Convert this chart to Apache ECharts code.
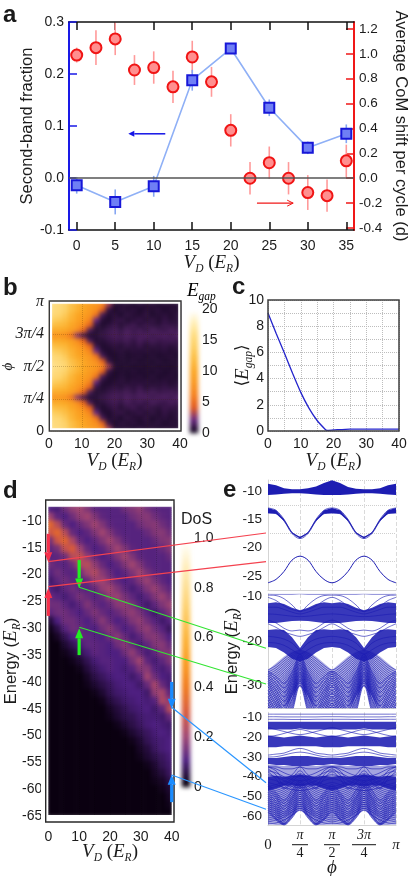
<!DOCTYPE html>
<html><head><meta charset="utf-8">
<script src="https://cdn.jsdelivr.net/npm/echarts@6/dist/echarts.min.js"></script>
<style>
html,body{margin:0;padding:0;background:#fff;width:409px;height:876px;overflow:hidden}
#bg,#fg{position:absolute;left:0;top:0;width:409px;height:876px}
#bg{filter:blur(2px)}
</style></head><body>
<div id="bg"></div><div id="fg"></div>
<script>
// ---------- panel a
const aBlueV=[0,5,10,15,20,25,30,35];
const aBlue=[-0.014,-0.046,-0.016,0.188,0.249,0.135,0.058,0.085];
const aBlueErr=[0.016,0.024,0.02,0.02,0.006,0.016,0.012,0.018];
const aRedV=[0,2.5,5,7.5,10,12.5,15,17.5,20,22.5,25,27.5,30,32.5,35];
const aRed=[0.99,1.05,1.12,0.87,0.89,0.735,0.975,0.775,0.385,0,0.125,0,-0.115,-0.14,0.14];
const aRedErr=[0.06,0.14,0.13,0.12,0.13,0.13,0.13,0.12,0.13,0.13,0.13,0.13,0.14,0.13,0.13];
// ---------- panel b: gap vs V_D (columns 0..40 step 2), rows phi = 0..pi/2 step pi/24, mirrored about pi/2
const gapRows=[
[16,15.5,14.5,12.5,11,10,9,8,6.5,3,.5,.4,.5,.3,.6,.4,.5,.3,.5,.4,.5],
[16,15.5,14.5,12.5,11,10,8.5,7.5,4.5,.8,.3,.6,.4,.6,.3,.5,.4,.6,.3,.5,.4],
[15.5,15,13.5,11.5,10,9,8,5.5,1.2,.4,.6,.3,.7,.5,.4,.7,.3,.5,.6,.4,.6],
[14,13.5,12.5,11,9.5,8.5,6.5,2,.5,.3,.7,.8,.4,.6,.8,.5,.7,.4,.8,.5,.6],
[12.5,12,11.5,10,8.5,7,4.5,.8,.3,.6,.9,.5,.8,1,.6,.9,.7,.6,.9,.8,.7],
[10.5,10.5,10,9,7,4.5,1.2,.4,.6,.9,1.1,.8,1.2,.9,1.1,.8,1.2,1,.9,1.2,1],
[8,8,7.5,5.5,2.5,1,.4,.5,.8,1,1.2,1,1.3,1.1,1.2,1.3,1,1.2,1.3,1.1,1.3],
[10.5,10.5,10,9,7,4.5,1.2,.4,.5,.8,1,.9,1.1,.8,1.2,.9,1.1,.9,1,1.1,.9],
[12.5,12,11.5,10,8.5,7,4.5,.8,.3,.5,.7,.5,.8,.6,.9,.5,.7,.6,.8,.6,.7],
[14,13.5,12.5,11,9.5,8.5,6.5,2,.5,.3,.5,.6,.4,.6,.5,.6,.4,.5,.6,.4,.5],
[15.5,15,13.5,11.5,10,9,8,5.5,1.2,.4,.3,.5,.3,.4,.5,.3,.5,.3,.4,.5,.3],
[16,15.5,14.5,12.5,11,10,8.5,7.5,4.5,.8,.3,.4,.3,.5,.3,.4,.3,.5,.3,.4,.4],
[16.5,16,15,13,11.5,10,9,8,6.5,3,.5,.3,.4,.3,.4,.3,.4,.3,.4,.3,.4]];
const gapTicks=['0','π/4','π/2','3π/4','π'];
// ---------- panel c
const cV=[0,2.5,5,7.5,10,12.5,15,17.5,18,20,25,30,35,40];
const cGap=[9,7.45,5.95,4.4,2.95,1.75,.8,.12,.05,.08,.15,.15,.15,.15];
// ---------- panel d: DoS in percent, one list per V_D column top to bottom (rest of each column is 0)
const dosCols=[
[10,20,34,28,15,12,11,14,11,8,10,13,14,12,4,1],
[9,12,24,34,28,15,12,12,14,12,8,11,14,14,10,5,2],
[14,10,13,24,33,26,14,11,12,14,12,9,12,14,14,11,6,3,1],
[18,14,10,13,22,30,24,14,11,12,14,12,9,12,14,14,10,6,3,1],
[20,18,13,10,13,20,26,22,14,11,12,15,12,10,12,13,13,9,6,3,1],
[16,20,16,12,10,13,18,24,20,13,11,13,16,13,10,11,12,12,9,6,4,2,1],
[12,16,20,16,12,10,13,18,23,19,13,11,13,16,13,10,11,12,12,9,7,5,3,1],
[11,12,16,20,16,12,10,13,17,20,18,13,11,13,17,14,10,11,11,11,9,7,5,3,1],
[11,11,12,16,20,16,12,10,13,16,20,18,13,11,13,17,14,10,10,11,11,9,7,6,4,2,1],
[11,11,11,12,16,20,16,12,10,12,16,19,17,13,10,13,17,14,10,10,10,10,9,8,6,4,3,1],
[14,11,11,11,12,16,20,16,12,10,12,15,18,16,12,10,13,17,14,10,9,10,10,9,8,6,5,3,1],
[16,14,11,11,11,12,16,20,16,12,9,12,15,18,16,12,9,13,18,15,11,8,10,10,9,8,6,5,3,1],
[18,16,14,11,11,11,12,16,20,16,12,9,11,15,18,16,12,9,13,20,16,11,8,10,10,9,8,7,5,3,2,1],
[14,17,16,13,11,11,11,12,15,19,16,12,8,11,14,18,16,12,9,12,17,20,13,8,9,10,9,9,7,6,4,3,1],
[12,14,17,16,13,11,11,11,12,15,19,16,12,8,11,14,17,16,12,9,11,14,21,18,11,8,9,10,9,8,7,5,3,2,1],
[11,12,14,17,16,13,11,11,11,12,15,19,16,12,8,11,14,17,16,12,9,10,13,21,22,12,8,9,10,9,9,7,6,4,2,1],
[11,11,12,14,17,16,13,11,11,10,12,15,19,16,11,7,10,13,16,16,12,9,9,12,18,24,13,8,9,10,10,9,8,7,5,3,2,1]];
const dosRowCount=39;
// ---------- panel e: phi in units of pi/16
const ePhi=[0,1,2,3,4,5,6,7,8,9,10,11,12,13,14,15,16];
const e1Band1Hi=[-8.7,-9,-9.5,-9.7,-9.7,-9.5,-9.2,-8.6,-8.1,-8.6,-9.3,-9.6,-9.7,-9.7,-9.5,-9,-8.7];
const e1Band1Lo=[-10.7,-10.6,-10.5,-10.4,-10.4,-10.5,-10.6,-10.7,-10.7,-10.7,-10.6,-10.5,-10.4,-10.4,-10.5,-10.6,-10.7];
// quarter-period samples (phi = 0, pi/16, pi/8, 3pi/16, pi/4), the pattern repeats by reflection
const e1Band2Hi=[-13,-13.4,-15,-17.3,-18.1], e1Band2Lo=[-13.9,-14,-15.3,-17.5,-18.4];
const e1Band3=[-26.2,-25.6,-24.2,-22.2,-21.5];
const e2Bands=[[[-11.6,-11.4,-11.8,-12.6,-13.2],[-16,-16,-15.8,-15.6,-15.5]],[[-17.6,-17.4,-17.6,-19.2,-21.6],[-21.4,-21.6,-22.6,-24,-24.6]]];
const e2MeshHi=[-26.5,-25,-23.5,-22.4,-22], e2MeshLo=[-42,-40,-35.5,-32.5,-30];
const e2Lines=[
[-9.5,-9.6,-9.6,-9.6,-9.5],[-9.8,-9.9,-10.6,-12,-13.5],[-10.3,-11,-12.2,-13,-13.4],[-15.4,-16,-17.2,-17.8,-17.6],[-16.2,-17,-18,-18.6,-19],
[-12.5,-12.5,-13,-13.6,-14],[-14,-14.1,-14.3,-14.5,-14.6],[-19,-19.2,-19.6,-20.5,-22],[-20.4,-20.5,-21,-22,-23],
[-26.5,-25.5,-24,-22.8,-22.2],[-27.5,-26.5,-25,-23.6,-22.8],[-28.5,-27.5,-26,-24.4,-23.4],[-29.5,-28.5,-27,-25.2,-24],[-30.5,-29.5,-28,-26,-24.6],
[-31.5,-30.5,-29,-26.8,-25.2],[-32.5,-31.5,-30,-27.6,-25.8],[-33.5,-32.5,-31,-28.4,-26.4],[-34.5,-33.5,-32,-29.2,-27],[-35.5,-34.5,-33,-30,-27.6],
[-36.5,-35.5,-34,-30.8,-28.2],[-37.5,-36.5,-35,-31.5,-28.8],[-38.5,-37.5,-36,-32.2,-29.4],[-39.5,-38.5,-37,-33,-30],
[-27,-26,-24.5,-23.2,-22.5],[-28,-27,-25.5,-24,-23.1],[-29,-28,-26.5,-24.8,-23.7],[-30,-29,-27.5,-25.6,-24.3],[-31,-30,-28.5,-26.4,-24.9],[-32,-31,-29.5,-27.2,-25.5],
[-33,-32,-30.5,-28,-26.1],[-34,-33,-31.5,-28.8,-26.7],[-35,-34,-32.5,-29.6,-27.3],[-36,-35,-33.5,-30.4,-27.9],[-37,-36,-34.5,-31.2,-28.5],[-38,-37,-35.5,-31.9,-29.1],
[-26.8,-28,-29.5,-27,-23],[-27.5,-29.5,-31.5,-28.5,-24],[-28.5,-31,-33.5,-30,-25],[-29.5,-32.5,-35.5,-31.5,-26],[-31,-34,-37,-33,-27],
[-32.5,-35.5,-38,-34,-28],[-34,-37,-39,-35,-29],[-35.5,-38,-40,-36,-30],
[-27.1,-28.7,-30.5,-27.8,-23.5],[-28,-30.2,-32.5,-29.2,-24.5],[-29,-31.7,-34.5,-30.8,-25.5],[-30.2,-33.2,-36.2,-32.2,-26.5],[-31.7,-34.7,-37.5,-33.5,-27.5],[-33.2,-36.2,-38.5,-34.5,-28.5],[-34.7,-37.5,-39.5,-35.5,-29.5]];
const e3Bands=[[[-12,-12,-12,-12,-12],[-16,-16,-16,-16,-15.5]],[[-19,-19.5,-20,-19.5,-19],[-25,-25,-24.5,-24.5,-24.5]],
[[-30.5,-30.5,-30,-29.5,-29.5],[-33.5,-34,-34,-34.5,-34.5]],[[-40,-39.5,-40,-39.5,-39],[-47,-46,-44.5,-44.5,-45]]];
const e3MeshHi=[-34,-34,-34.5,-34.5,-34.5], e3MeshLo=[-64,-64.5,-64.5,-60,-57];
const e3Lines=[
[-8.2,-8.2,-8.2,-8.2,-8.2],[-9.5,-9.5,-9.6,-9.6,-9.6],[-10.8,-10.8,-10.8,-10.9,-10.9],[-15,-16,-17,-18,-18.6],[-19.5,-19,-18,-16.8,-16],
[-29,-28.5,-28,-26.5,-25.6],[-30,-29.8,-29,-28,-27.5],[-35,-35,-36,-36,-35],
[-45,-44,-42.5,-40,-38.5],[-47,-46,-44.5,-42,-40],[-49,-48,-46.5,-44,-42],[-51,-50,-48.5,-46,-44],[-53,-52,-50.5,-48,-46],[-55,-54,-52.5,-50,-48],
[-57,-56,-54.5,-52,-50],[-59,-58,-56.5,-54,-52],[-61,-60,-58.5,-56,-54],[-63,-62,-60.5,-58,-56],[-64,-63.5,-62,-59.5,-57],
[-46,-45,-43.5,-41,-39.2],[-48,-47,-45.5,-43,-41],[-50,-49,-47.5,-45,-43],[-52,-51,-49.5,-47,-45],[-54,-53,-51.5,-49,-47],[-56,-55,-53.5,-51,-49],[-58,-57,-55.5,-53,-51],[-60,-59,-57.5,-55,-53],[-62,-61,-59.5,-57,-55],
[-35,-36,-38,-39.5,-40],[-37,-38,-40,-41.5,-42],[-39,-40,-42,-43.5,-44],[-41,-42,-44,-45,-45.5],[-43,-44,-45.5,-46.5,-47],
[-44,-48,-52,-47,-42],[-46,-50,-55,-50,-44],[-48,-52.5,-58,-52,-46],[-50,-55,-60,-54.5,-48],[-52,-57,-62,-57,-50],[-54,-59,-63.5,-59,-52],[-56,-61,-64,-60,-54],[-58,-62,-64.5,-61,-56],
[-45,-49,-53.5,-48.5,-43],[-47,-51,-56.5,-51,-45],[-49,-53.7,-59,-53.2,-47],[-51,-56,-61,-55.7,-49],[-53,-58,-62.7,-58,-51],[-55,-60,-63.8,-59.5,-53],[-57,-61.5,-64.2,-60.5,-55],
[-35,-37,-41,-39,-35],[-36,-39,-44,-41,-37],[-37.5,-41,-46,-43,-39]];
const tickCbarGap=[0,5,10,15,20], tickCbarDos=[0,.2,.4,.6,.8,1];

// ---------- styling
const SANS='"Liberation Sans",Arial,sans-serif', SERIF='"Liberation Serif","DejaVu Serif",serif';
const INK='#1c1c1c';
const gapColors=['#12061f','#6a2a80','#e0581e','#f57f1c','#f9961f','#fba623','#fcbb3e','#fdcf62','#fedc80','#ffefb8','#ffffff'];
const dosColors=['#0a0010','#4e1f80','#a04470','#d85a3a','#f07a1c','#fa9a1e','#fcb33a','#fdca62','#fedd8e','#ffeebd','#ffffff'];
const unfold=q=>[q[0],q[1],q[2],q[3],q[4],q[3],q[2],q[1],q[0],q[1],q[2],q[3],q[4],q[3],q[2],q[1],q[0]];
const range=n=>Array.from({length:n},(_,i)=>i);
const mathRich={i:{fontFamily:SERIF,fontStyle:'italic',fontSize:19,lineHeight:24,color:INK},n:{fontFamily:SERIF,fontSize:19,lineHeight:24,color:INK},
 s:{fontFamily:SERIF,fontStyle:'italic',fontSize:11.5,lineHeight:24,verticalAlign:'bottom',color:INK},
 b:{fontFamily:'"DejaVu Serif",serif',fontSize:17,lineHeight:24,color:INK}};
const VD='{i|V}{s|D}{n| (}{i|E}{s|R}{n|)}';

// ---------- background chart: the heat maps (softened as in the reference raster)
const bg=echarts.init(document.getElementById('bg'));
const heat=(g,data)=>({type:'heatmap',xAxisIndex:g,yAxisIndex:g,data,progressive:0,silent:true,itemStyle:{borderWidth:0}});
const bgGrids=[{left:49.6,top:301.6,width:131,height:129},{left:190,top:309,width:8,height:124},
 {left:46.4,top:504.7,width:127.2,height:312.3},{left:182,top:538,width:8,height:249}].map(g=>Object.assign(g,{outerBoundsMode:'none'}));
const bgDims=[[21,25],[1,41],[17,dosRowCount],[1,41]];
const gapData=[];
[...gapRows,...gapRows.slice(0,12).reverse()].forEach((r,i)=>r.forEach((v,j)=>gapData.push([j,i,v])));
const dosData=[];
dosCols.forEach((c,j)=>range(dosRowCount).forEach(i=>dosData.push([j,dosRowCount-1-i,c[i]||0])));
bg.setOption({animation:false,
 grid:bgGrids,
 xAxis:bgDims.map((d,g)=>({type:'category',gridIndex:g,data:range(d[0]),show:false})),
 yAxis:bgDims.map((d,g)=>({type:'category',gridIndex:g,data:range(d[1]),show:false})),
 visualMap:[{show:false,type:'continuous',min:0,max:20,seriesIndex:[0,1],dimension:2,inRange:{color:gapColors}},
            {show:false,type:'continuous',min:0,max:100,seriesIndex:[2,3],dimension:2,inRange:{color:dosColors}}],
 series:[heat(0,gapData),
  heat(1,range(41).map(i=>[0,i,i*0.5])),
  heat(2,dosData),
  heat(3,range(41).map(i=>[0,i,i*2.5]))]});

// ---------- foreground chart
const fg=echarts.init(document.getElementById('fg'));
const grids=[],xs=[],ys=[],series=[];
function panel(rect,x,y){const g=grids.length;grids.push(Object.assign(rect,{outerBoundsMode:'none'}));
 (Array.isArray(x)?x:[x]).forEach(a=>xs.push(Object.assign({type:'value',gridIndex:g,nameMoveOverlap:false},a)));
 (Array.isArray(y)?y:[y]).forEach(a=>ys.push(Object.assign({type:'value',gridIndex:g,nameMoveOverlap:false},a)));return g;}
const lab=(o)=>Object.assign({color:INK,fontFamily:SANS,fontSize:14},o||{});
const hide={show:false};
const aIdx=g=>xs.findIndex(a=>a.gridIndex===g), bIdx=g=>ys.findIndex(a=>a.gridIndex===g);

// a
panel({left:69,top:22,width:285,height:208},
 [{min:-1,max:36,position:'bottom',axisLine:{show:true,onZero:false,lineStyle:{color:'#111',width:1.5}},axisTick:{show:true,inside:true,length:8,customValues:[0,5,10,15,20,25,30,35],lineStyle:{color:'#111',width:1.5}},
   axisLabel:lab({margin:9,customValues:[0,5,10,15,20,25,30,35]}),splitLine:hide,name:VD,nameLocation:'middle',nameGap:21,nameTextStyle:{rich:mathRich}},
  {min:-1,max:36,position:'top',axisLine:{show:true,onZero:false,lineStyle:{color:'#111',width:1.5}},axisTick:{show:true,inside:true,length:8,customValues:[0,5,10,15,20,25,30,35],lineStyle:{color:'#111',width:1.5}},axisLabel:hide,splitLine:hide}],
 [{min:-0.1,max:0.3,position:'left',interval:0.1,axisLine:{show:true,onZero:false,lineStyle:{color:'#1a1ae6',width:2}},axisTick:{show:true,inside:true,length:8,lineStyle:{color:'#1a1ae6',width:1.5}},
   axisLabel:lab({margin:5,formatter:v=>v.toFixed(1)}),splitLine:hide,name:'Second-band fraction',nameLocation:'middle',nameGap:33,nameRotate:90,nameTextStyle:{fontFamily:SANS,fontSize:16.5,color:INK}},
  {min:-0.416,max:1.256,position:'right',axisLine:{show:true,onZero:false,lineStyle:{color:'#f01818',width:2}},axisTick:{show:true,inside:true,length:8,customValues:[-0.4,-0.2,0,0.2,0.4,0.6,0.8,1,1.2],lineStyle:{color:'#f01818',width:1.5}},
   axisLabel:lab({fontSize:13.5,margin:5,customValues:[-0.4,-0.2,0,0.2,0.4,0.6,0.8,1,1.2],formatter:v=>Math.abs(v)<1e-9?'0.0':v.toFixed(1)}),splitLine:hide,name:'Average CoM shift per cycle (d)',nameLocation:'middle',nameGap:38,nameRotate:-90,nameTextStyle:{fontFamily:SANS,fontSize:16.5,color:INK}}]);
const errSeries=(xi,yi,x,v,e,c)=>({type:'custom',xAxisIndex:xi,yAxisIndex:yi,silent:true,data:x.map((p,k)=>[p,v[k]-e[k],v[k]+e[k]]),
 renderItem:(p,api)=>{const a=api.coord([api.value(0),api.value(1)]),b=api.coord([api.value(0),api.value(2)]);
  return {type:'line',shape:{x1:a[0],y1:a[1],x2:b[0],y2:b[1]},style:{stroke:c,lineWidth:1.6}};}});
const arrow=(xi,yi,from,to,c,lw,hl,hw,open)=>({type:'custom',xAxisIndex:xi,yAxisIndex:yi,silent:true,clip:false,z:30,data:[[from[0],from[1],to[0],to[1]]],
 renderItem:(p,api)=>{const a=api.coord([api.value(0),api.value(1)]),b=api.coord([api.value(2),api.value(3)]);
  const dx=b[0]-a[0],dy=b[1]-a[1],L=Math.hypot(dx,dy),ux=dx/L,uy=dy/L,bx=b[0]-ux*hl,by=b[1]-uy*hl;
  const h1=[bx-uy*hw/2,by+ux*hw/2],h2=[bx+uy*hw/2,by-ux*hw/2];
  return {type:'group',children:[
   {type:'line',shape:{x1:a[0],y1:a[1],x2:open?b[0]:bx,y2:open?b[1]:by},style:{stroke:c,lineWidth:lw}},
   open?{type:'polyline',shape:{points:[h1,b,h2]},style:{stroke:c,lineWidth:1,fill:null}}
       :{type:'polygon',shape:{points:[h1,b,h2]},style:{fill:c}}]};}});
series.push({type:'line',xAxisIndex:0,yAxisIndex:0,silent:true,showSymbol:false,data:[],markLine:{silent:true,symbol:'none',label:hide,lineStyle:{color:'#555',width:1.5,type:'solid'},data:[{yAxis:0}]}});
series.push(errSeries(0,1,aRedV,aRed,aRedErr,'#ff9a9a'));
series.push({type:'scatter',xAxisIndex:0,yAxisIndex:1,symbol:'circle',symbolSize:11,data:aRedV.map((x,i)=>[x,aRed[i]]),itemStyle:{color:'#ff8f8f',borderColor:'#f01515',borderWidth:2,opacity:1}});
series.push(errSeries(0,0,aBlueV,aBlue,aBlueErr,'#86a6f2'));
series.push({type:'line',xAxisIndex:0,yAxisIndex:0,data:aBlueV.map((x,i)=>[x,aBlue[i]]),symbol:'rect',symbolSize:10,lineStyle:{color:'#8fb0f6',width:1.6},itemStyle:{color:'#6f7ff5',borderColor:'#1717d8',borderWidth:2,opacity:1}});
series.push(arrow(0,0,[11.5,0.085],[6.7,0.085],'#1414e6',1.5,6,6,false));
series.push(arrow(0,1,[23.4,-0.2],[28.1,-0.2],'#f01818',1.2,6,6,true));

// b
const gb=panel({left:49,top:302,width:131,height:129},
 {min:0,max:40,interval:10,axisLine:hide,axisTick:hide,axisLabel:lab({margin:6}),splitLine:{show:true,lineStyle:{color:'rgba(60,30,0,.22)',type:'dotted'}},name:VD,nameLocation:'middle',nameGap:18,nameTextStyle:{rich:mathRich}},
 {min:0,max:4,interval:1,axisLine:hide,axisTick:hide,splitLine:{show:true,lineStyle:{color:'rgba(60,30,0,.22)',type:'dotted'}},
  axisLabel:{margin:5,formatter:v=>gapTicks[v]==='0'?'{z|0}':'{m|'+gapTicks[v]+'}',rich:{z:{fontFamily:SANS,fontSize:14,color:INK},m:{fontFamily:SERIF,fontSize:16,fontStyle:'italic',color:INK}}},
  name:'{i|ϕ}',nameLocation:'middle',nameGap:33,nameRotate:90,nameTextStyle:{rich:{i:{fontFamily:SERIF,fontStyle:'italic',fontSize:15,color:INK}}}});
// b colour bar
panel({left:190,top:309,width:8,height:124},{min:0,max:1,show:false},
 {min:0,max:20,position:'right',axisLine:hide,axisTick:hide,splitLine:hide,axisLabel:lab({margin:4,customValues:tickCbarGap})});
// c
const dot={show:true,lineStyle:{color:'#bdbdbd',width:1,type:'dotted'}};
const gc=panel({left:268,top:300,width:131,height:131},
 {min:0,max:40,interval:5,axisLine:hide,axisTick:hide,splitLine:dot,axisLabel:lab({margin:6,customValues:[0,10,20,30,40]}),name:VD,nameLocation:'middle',nameGap:18,nameTextStyle:{rich:mathRich}},
 {min:0,max:10,interval:1,axisLine:hide,axisTick:hide,splitLine:dot,axisLabel:lab({margin:4,customValues:[0,2,4,6,8,10]}),
  name:'{b|⟨}{i|E}{s|gap}{b|⟩}',nameLocation:'middle',nameGap:13,nameRotate:90,nameTextStyle:{rich:mathRich}});
series.push({type:'line',xAxisIndex:aIdx(gc),yAxisIndex:bIdx(gc),data:cV.map((v,i)=>[v,cGap[i]]),showSymbol:false,smooth:0.2,lineStyle:{color:'#2424cc',width:1.3},z:5});
// d
const dGrid={show:true,lineStyle:{color:'rgba(0,0,0,.18)',type:'dotted'}};
const gd=panel({left:48.3,top:500,width:123.4,height:322},
 {min:0,max:40,interval:5,axisLine:hide,axisTick:hide,splitLine:dGrid,axisLabel:lab({margin:8,customValues:[0,10,20,30,40]}),name:VD,nameLocation:'middle',nameGap:18,nameTextStyle:{rich:mathRich}},
 {min:-66.1,max:-6.1,axisLine:hide,axisTick:hide,splitLine:hide,
  axisLabel:lab({margin:6,customValues:[-10,-15,-20,-25,-30,-35,-40,-45,-50,-55,-60,-65]}),
  name:'{n|Energy (}{i|E}{s|R}{n|)}',nameLocation:'middle',nameGap:25,nameRotate:90,nameTextStyle:{rich:{...mathRich,n:{fontFamily:SANS,fontSize:16.5,lineHeight:24,color:INK}}}});
// d colour bar
panel({left:182,top:538,width:8,height:249},{min:0,max:1,show:false},
 {min:0,max:1,position:'right',axisLine:hide,axisTick:hide,splitLine:hide,axisLabel:lab({margin:4,customValues:tickCbarDos,formatter:v=>v===0?'0':v.toFixed(1)})});
// e panels
const eV={show:true,lineStyle:{color:'#dadada',width:1,type:'dashed'}};
const eH={show:true,lineStyle:{color:'#cfcfcf',width:1,type:'dotted'}};
const eX=(extra)=>Object.assign({min:0,max:16,interval:4,axisLine:{show:true,onZero:false,lineStyle:{color:'#d4d4d4'}},axisTick:hide,axisLabel:hide,splitLine:eV},extra||{});
const eY=(min,max,vals,extra)=>Object.assign({min,max,axisLine:{show:true,onZero:false,lineStyle:{color:'#d4d4d4'}},axisTick:hide,splitLine:hide,axisLabel:lab({margin:6,customValues:vals,fontSize:13.5})},extra||{});
const e1=panel({left:268,top:480,width:128,height:110},eX(),eY(-27.47,-8.06,[-10,-15,-20,-25],{interval:5,splitLine:eH}));
const enameRich={...mathRich,n:{fontFamily:SANS,fontSize:16.5,lineHeight:24,color:INK}};
const e2=panel({left:268,top:594,width:128,height:114},eX(),eY(-35,-9.55,[-10,-20,-30],{name:'{n|Energy (}{i|E}{s|R}{n|)}',nameLocation:'middle',nameGap:24,nameRotate:90,nameTextStyle:{rich:enameRich}}));
const piLabel={t:{fontFamily:SERIF,fontStyle:'italic',fontSize:14,color:INK,lineHeight:16},d:{fontFamily:SERIF,fontSize:14,color:INK,lineHeight:16},
 bar:{width:16,height:1,backgroundColor:'#111',lineHeight:2,fontSize:1},bar2:{width:24,height:1,backgroundColor:'#111',lineHeight:2,fontSize:1},
 z:{fontFamily:SERIF,fontSize:15,color:INK,padding:[10,0,0,0]},p:{fontFamily:SERIF,fontStyle:'italic',fontSize:15,color:INK,padding:[10,0,0,0]}};
const piText={0:'{z|0}',4:'{t|π}\n{bar| }\n{d|4}',8:'{t|π}\n{bar| }\n{d|2}',12:'{t|3π}\n{bar2| }\n{d|4}',16:'{p|π}'};
const e3=panel({left:268,top:712.3,width:128,height:113.4},
 eX({axisLabel:{show:true,margin:2,formatter:v=>piText[v]||'',rich:piLabel},name:'{i|ϕ}',nameLocation:'middle',nameGap:30,nameTextStyle:{rich:mathRich}}),
 eY(-64.9,-7.25,[-10,-20,-30,-40,-50,-60]));
const B='#1d1db2';
const bandPoly=(g,phi,hi,lo,op)=>({type:'custom',xAxisIndex:aIdx(g),yAxisIndex:bIdx(g),silent:true,clip:true,data:phi.map((p,i)=>[p,hi[i],lo[i]]),
 renderItem:(pr,api)=>{if(pr.dataIndex!==0)return null;
  const pts=[...phi.map((p,i)=>api.coord([p,hi[i]])),...phi.map((p,i)=>api.coord([p,lo[i]])).reverse()];
  return {type:'polygon',shape:{points:pts,smooth:0},style:{fill:B,opacity:op}};}});
const bandLine=(g,v,w,op)=>({type:'line',xAxisIndex:aIdx(g),yAxisIndex:bIdx(g),data:ePhi.map((p,i)=>[p,v[i]]),showSymbol:false,smooth:0.35,silent:true,lineStyle:{color:B,width:w,opacity:op}});
series.push(bandPoly(e1,ePhi,e1Band1Hi,e1Band1Lo,1));
series.push(bandPoly(e1,ePhi,unfold(e1Band2Hi),unfold(e1Band2Lo),1));
series.push(bandLine(e1,unfold(e1Band2Hi),0.7,1),bandLine(e1,unfold(e1Band2Lo),0.7,1),bandLine(e1,unfold(e1Band3),1,1));
e2Bands.forEach(b=>series.push(bandPoly(e2,ePhi,unfold(b[0]),unfold(b[1]),0.88)));
series.push(bandPoly(e2,ePhi,unfold(e2MeshHi),unfold(e2MeshLo),0.35));
e2Lines.forEach(l=>series.push(bandLine(e2,unfold(l),0.7,0.9)));
e3Bands.forEach(b=>series.push(bandPoly(e3,ePhi,unfold(b[0]),unfold(b[1]),0.88)));
series.push(bandPoly(e3,ePhi,unfold(e3MeshHi),unfold(e3MeshLo),0.4));
e3Lines.forEach(l=>series.push(bandLine(e3,unfold(l),0.7,0.9)));
// d arrows
const dxi=aIdx(gd),dyi=bIdx(gd);
const RED='#f6304a',GRN='#22ee22',BLU='#1a8cff';
series.push(arrow(dxi,dyi,[0,-12.4],[0,-17.7],RED,3.2,10,8),arrow(dxi,dyi,[0,-27.7],[0,-22.5],RED,3.2,10,8),
 arrow(dxi,dyi,[10,-17.3],[10,-22.6],GRN,3.2,10,8),arrow(dxi,dyi,[10,-35],[10,-30],GRN,3.2,10,8),
 arrow(dxi,dyi,[40,-40],[40,-45],BLU,3.2,10,8),arrow(dxi,dyi,[40,-62.4],[40,-57.3],BLU,3.2,10,8));
const conn=(p,c,w)=>({type:'line',shape:{x1:p[0],y1:p[1],x2:p[2],y2:p[3]},style:{stroke:c,lineWidth:w||1.2},z:50,silent:true});
const letter=(t,x,y)=>({type:'text',x,y,style:{text:t,fontFamily:SANS,fontWeight:'bold',fontSize:24,fill:'#1a1a1a',verticalAlign:'bottom'},z:60});
// white masks: keep the softened heat-map edges inside their frames
const mask=(x,y,w,h)=>({type:'rect',shape:{x,y,width:w,height:h},style:{fill:'#fff'},z:19,silent:true});
const ring=(x,y,w,h)=>[
 {type:'rect',shape:{x:x-2.6,y:y-2.6,width:w+5.2,height:h+5.2},style:{fill:null,stroke:'#fff',lineWidth:4},z:19,silent:true},
 {type:'rect',shape:{x:x+1.5,y:y+1.5,width:w-3,height:h-3},style:{fill:null,stroke:'#fff',lineWidth:2.6},z:20,silent:true},
 {type:'rect',shape:{x,y,width:w,height:h},style:{fill:null,stroke:'#3a3a3a',lineWidth:1.4},z:21,silent:true}];
const dosFrame=[
 {type:'rect',shape:{x:43,y:497.4,width:133.6,height:327.2},style:{fill:null,stroke:'#fff',lineWidth:4},z:19,silent:true},
 mask(46,501,127.4,5.7), mask(46,815,127.4,6.4), mask(46,501,2.3,320), mask(171.7,501,2,320),
 {type:'rect',shape:{x:45.7,y:500,width:128.3,height:322},style:{fill:null,stroke:'#2a2a2a',lineWidth:1.4},z:21,silent:true}];
fg.setOption({animation:false,grid:grids,xAxis:xs,yAxis:ys,series,
 graphic:{elements:[
  ...ring(49.3,301,131.7,130),
  {type:'rect',shape:{x:268,y:300,width:131,height:131},style:{fill:null,stroke:'#3f3f3f',lineWidth:1.5},z:21,silent:true},
  ...dosFrame,
  {type:'text',x:181,y:512,style:{text:'DoS',fontFamily:SANS,fontSize:16,fill:INK},z:40},
  {type:'text',x:187,y:279,style:{text:'{i|E}{s|gap}',rich:mathRich},z:40},
  conn([48.3,561.7,266,533],'#f4424f'),conn([48.3,586.7,266,561.7],'#f4424f'),
  conn([79.3,587.3,266,648.3],'#33e533'),conn([79.3,627.3,266,684],'#33e533'),
  conn([171.7,707.3,266,782.7],'#2b96ff'),conn([171.7,775,266,809.3],'#2b96ff'),
  letter('a',3,27),letter('b',3,300),letter('c',232,299),letter('d',3,503),letter('e',223,502)
 ]}});
</script>
</body></html>
